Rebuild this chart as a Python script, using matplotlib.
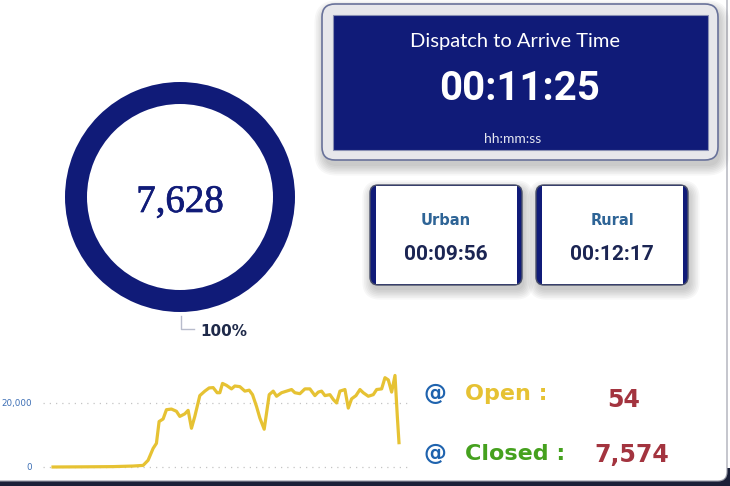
import matplotlib.pyplot as plt
import matplotlib.patheffects as pe
from matplotlib.patches import FancyBboxPatch, Rectangle

# numbers shown on the dashboard
total_calls = 7628
total_pct = "100%"
headline_title = "Dispatch to Arrive Time"
headline_time = "00:11:25"
headline_unit = "hh:mm:ss"
area_names = ["Urban", "Rural"]
area_times = ["00:09:56", "00:12:17"]
status_names = ["Open :", "Closed :"]
status_counts = [54, 7574]
status_colors = ["#E6C233", "#45A11E"]

# trend line
trend_x = [160, 250, 340, 400, 430, 445, 460, 470, 478, 490, 500, 515, 530, 540,
           555, 565, 575, 585, 600, 615, 628, 640, 652, 660, 668, 680, 695, 705,
           720, 735, 748, 758, 770, 780, 793, 808, 820, 830, 845, 860, 875, 885,
           900, 915, 930, 945, 955, 965, 975, 990, 1000, 1010, 1020, 1035, 1045,
           1055, 1068, 1080, 1090, 1105, 1120, 1130, 1145, 1155, 1165, 1175,
           1185, 1192, 1197]
trend_vals = [0, 50, 120, 300, 500, 2100, 5800, 7400, 14200, 15000, 17900, 18100,
              17400, 15800, 16600, 17700, 12100, 15800, 22300, 23700, 24700, 24800,
              23200, 23200, 26100, 25500, 24400, 25300, 25100, 23700, 24000, 22600,
              18900, 15300, 11800, 22600, 23700, 22100, 23200, 23700, 24200, 23200,
              22900, 24400, 24400, 22300, 23400, 23700, 22300, 22600, 21100, 20000,
              23700, 24200, 18400, 21300, 22300, 24200, 23200, 22100, 22600, 24200,
              24400, 27900, 27200, 23400, 28600, 15800, 7600]
trend_ticks = [0, 20000]

navy = "#101B78"
dark = "#1b2038"
W, H = 730, 486

fig = plt.figure(figsize=(7.3, 4.86), dpi=100, facecolor="white")

# background axes in pixel units (y down)
bg = fig.add_axes([0, 0, 1, 1])
bg.set_xlim(0, W)
bg.set_ylim(H, 0)
bg.axis("off")


def rbox(ax, x, y, w, h, r, **kw):
    p = FancyBboxPatch((x, y), w, h, boxstyle=f"round,pad=0,rounding_size={r}", **kw)
    ax.add_patch(p)
    return p


def shadow(ax, x, y, w, h, r, dy=4):
    for k in range(7):
        g = k * 1.6
        rbox(ax, x - g + 2, y - g + dy, w + 2 * g, h + 2 * g, r + g,
             fc="black", ec="none", alpha=0.03)


# dark frame showing at the bottom edge, then the white card
bg.add_patch(Rectangle((0, 479), W, 10, fc=dark, ec="none"))
bg.add_patch(Rectangle((718, 468), 14, 20, fc=dark, ec="none"))
rbox(bg, -20, -20, 747, 501, 9, fc="white", ec="#9a9ca8", lw=0.8)

# headline box
shadow(bg, 322, 4, 396, 156, 13, dy=6)
rbox(bg, 322, 4, 396, 156, 13, fc="#e7e7eb", ec="#69729a", lw=1.2)
bg.add_patch(Rectangle((333, 15), 375, 135, fc=navy, ec="#8a90b4", lw=0.8))
bg.text(515, 47, headline_title, color="white", fontsize=14.5,
        family="Lato", ha="center", va="baseline")
bg.text(520, 100, headline_time, color="white", fontsize=29,
        family="Roboto", weight="bold", ha="center", va="baseline")
bg.text(513, 143, headline_unit, color="#e4e6f0", fontsize=10,
        family="Lato", ha="center", va="baseline")

# urban / rural cards
for i, (name, t) in enumerate(zip(area_names, area_times)):
    x0 = 370 + i * 166
    shadow(bg, x0, 185, 152, 100, 8, dy=5)
    rbox(bg, x0, 185, 152, 100, 8, fc=navy, ec="#4a5068", lw=1)
    bg.add_patch(Rectangle((x0 + 5.5, 186.2), 141, 97.6, fc="white", ec="none"))
    cx = x0 + 76
    bg.text(cx, 225, name, color="#2E6496", fontsize=10.5, weight="bold",
            ha="center", va="baseline")
    bg.text(cx, 260, t, color="#1B2553", fontsize=15, family="Roboto",
            weight="bold", ha="center", va="baseline")

# donut
dax = fig.add_axes([65 / W, (H - 312) / H, 230 / W, 230 / H])
dax.pie([total_calls], colors=[navy], radius=1, startangle=90,
        wedgeprops=dict(width=22 / 115, edgecolor="none"))
dax.set_xlim(-1, 1)
dax.set_ylim(-1, 1)
dax.set_aspect("equal")
dax.axis("off")
bg.text(180, 212, f"{total_calls:,}", color=navy, fontsize=28,
        family="Liberation Serif", ha="center", va="baseline",
        path_effects=[pe.withStroke(linewidth=0.5, foreground=navy)])
bg.plot([181, 181, 194], [316, 329, 329], color="#b8bccc", lw=1)
bg.text(200, 336, total_pct, color="#1f2a4a", fontsize=11, weight="bold",
        ha="left", va="baseline")

# sparkline
lax = fig.add_axes([43 / W, (H - 475) / H, 367 / W, 105 / H])
lax.patch.set_alpha(0)
lax.plot(trend_x, trend_vals, color="#E6C233", lw=2.3, solid_joinstyle="round")
lax.set_xlim(130, 1230)
lax.set_ylim(-2500, 30300)
lax.set_yticks(trend_ticks)
lax.set_yticklabels([f"{v:,}" for v in trend_ticks])
lax.set_xticks([])
for v in trend_ticks:
    lax.axhline(v, color="#c4c4c4", lw=0.9, ls=(0, (1, 4)), zorder=0)
lax.tick_params(axis="y", length=0, pad=8, labelsize=6.3, labelcolor="#3D6FB5")
for s in lax.spines.values():
    s.set_visible(False)

# open / closed counts
ys = [400, 460]
count_x = [624, 632]
count_base = [407, 462]
for name, n, c, y, cxp, cb in zip(status_names, status_counts, status_colors,
                                  ys, count_x, count_base):
    bg.text(435, y, "@", color="#1F63AE", fontsize=16.5, weight="bold",
            ha="center", va="baseline")
    bg.text(465, y, name, color=c, fontsize=16, weight="bold",
            ha="left", va="baseline")
    bg.text(cxp, cb, f"{n:,}", color="#A3343F", fontsize=17, weight="bold",
            ha="center", va="baseline")

fig.savefig("out.png", dpi=100, facecolor=fig.get_facecolor())
